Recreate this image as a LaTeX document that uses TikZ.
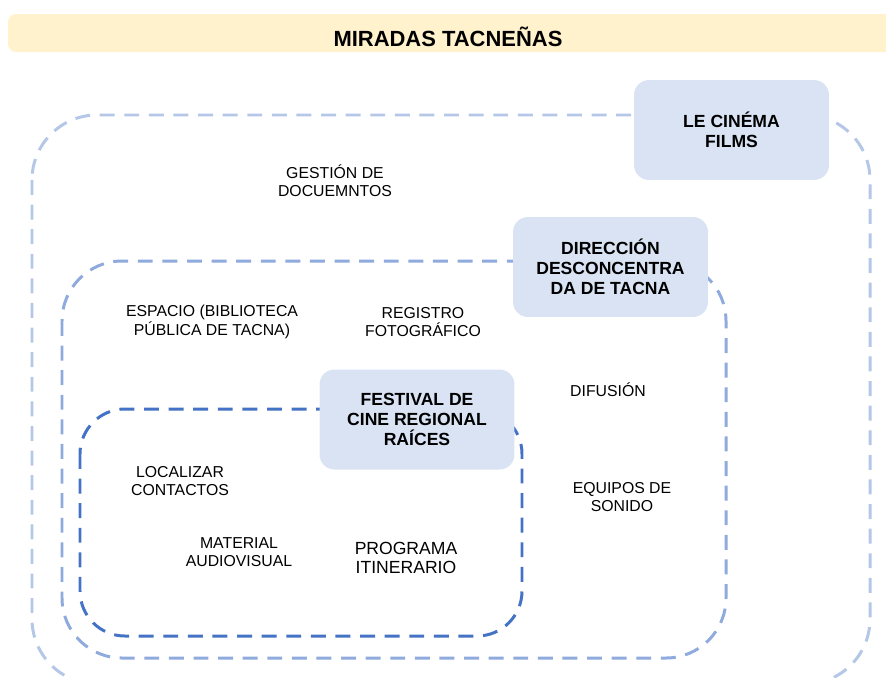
\documentclass[tikz,border=0pt]{standalone}
\usepackage{fontspec}
\setmainfont{Liberation Sans}
\definecolor{titlefill}{HTML}{FFF2CC}
\definecolor{boxfill}{HTML}{DAE3F3}
\definecolor{loopA}{HTML}{B4C7E7}
\definecolor{loopB}{HTML}{8FAADC}
\definecolor{loopC}{HTML}{4472C4}
\def\dloop{\draw[line width=1.7pt,dash pattern=on 8.5pt off 5.5pt]}

\begin{document}
\begin{tikzpicture}[x=0.02cm,y=-0.02cm,
    box/.style={fill=boxfill,rounded corners=0.3cm,minimum width=3.9cm,minimum height=2cm,
      align=center,font=\fontsize{10}{11.3}\selectfont\bfseries},
    lbl/.style={align=center,font=\fontsize{9}{10.4}\selectfont}]
  \useasboundingbox (0,0) rectangle (886,677);
  \clip (0,0) rectangle (886,677);
  % title bar
  \fill[titlefill,rounded corners=0.16cm] (8,14) rectangle (900,52);
  \node[font=\fontsize{12.5}{14}\selectfont\bfseries] (title) at (448,37) {MIRADAS TACNEÑAS};
  % dashed loops
  \dloop[loopA,rounded corners=1.3cm] (32,115) rectangle (870,684);
  \dloop[loopB,rounded corners=1.2cm] (62,261) rectangle (726,658);
  \dloop[loopC,rounded corners=0.9cm] (80,409) rectangle (522,636);
  % boxes
  \node[box] (cinema) at (731.5,130) {LE CINÉMA\\FILMS};
  \node[box] (direccion) at (610.5,267) {DIRECCIÓN\\DESCONCENTRA\\DA DE TACNA};
  \node[box] (festival) at (417,419.5) {FESTIVAL DE\\CINE REGIONAL\\RAÍCES};
  % labels
  \node[lbl] (gestion) at (335,181) {GESTIÓN DE\\DOCUEMNTOS};
  \node[lbl] (espacio) at (212,322) {ESPACIO (BIBLIOTECA\\PÚBLICA DE TACNA)};
  \node[lbl] (registro) at (423,322) {REGISTRO\\FOTOGRÁFICO};
  \node[lbl] (difusion) at (608,390) {DIFUSIÓN};
  \node[lbl] (localizar) at (180,481) {LOCALIZAR\\CONTACTOS};
  \node[lbl] (equipos) at (622,497) {EQUIPOS DE\\SONIDO};
  \node[lbl] (material) at (239,552) {MATERIAL\\AUDIOVISUAL};
  \node[lbl,font=\fontsize{10}{11.3}\selectfont] (programa) at (406,558) {PROGRAMA\\ITINERARIO};
\end{tikzpicture}
\end{document}
